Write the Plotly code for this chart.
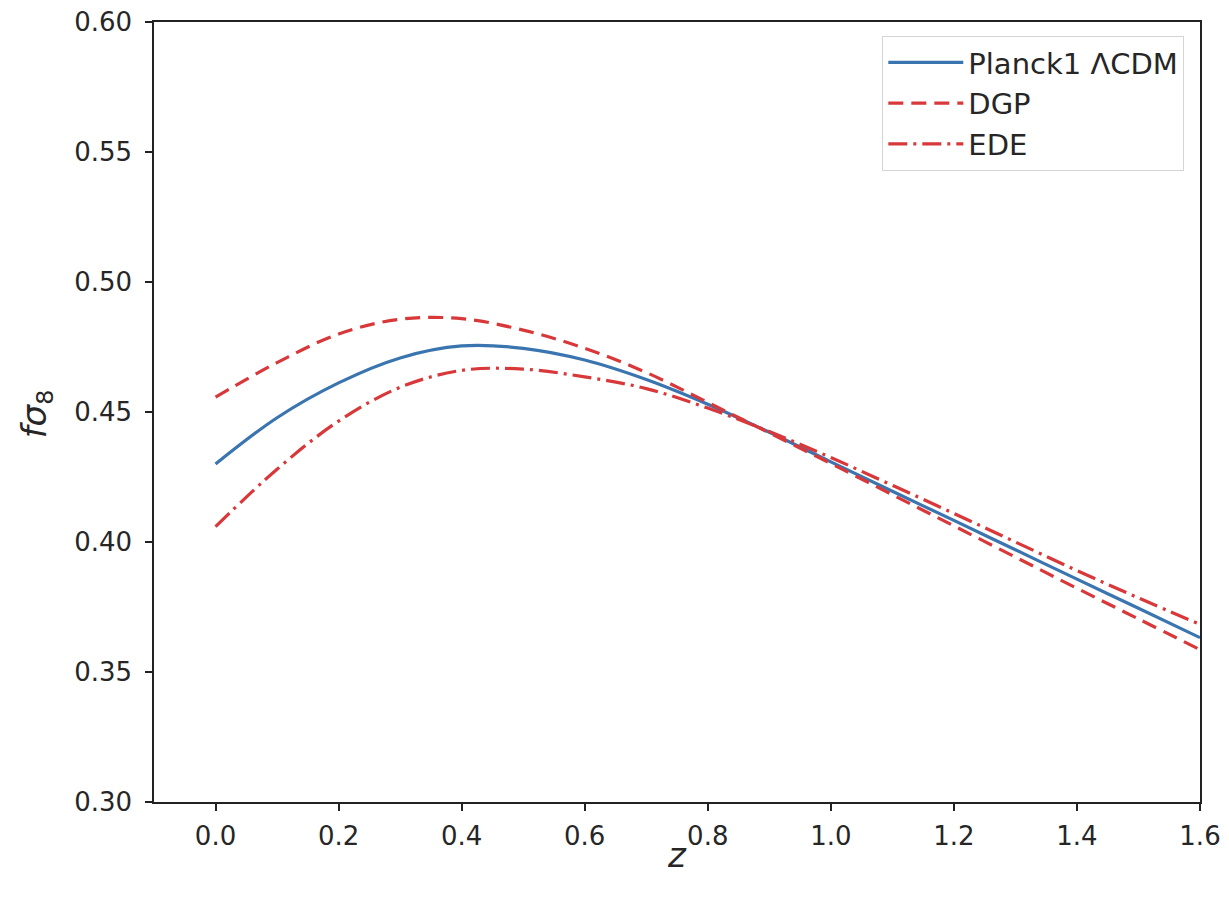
import plotly.graph_objects as go

z = [0.0, 0.1, 0.2, 0.3, 0.4, 0.5, 0.6, 0.7, 0.8, 0.9, 1.0, 1.1, 1.2, 1.3, 1.4, 1.5, 1.6]
lcdm = [0.4300, 0.4478, 0.4612, 0.4708, 0.4754, 0.4745, 0.4700, 0.4625, 0.4530, 0.4422, 0.4308,
        0.4195, 0.4083, 0.3970, 0.3857, 0.3745, 0.3632]
dgp = [0.4557, 0.4690, 0.4800, 0.4857, 0.4859, 0.4815, 0.4745, 0.4652, 0.4537, 0.4420, 0.4302,
       0.4182, 0.4062, 0.3942, 0.3822, 0.3704, 0.3586]
ede = [0.4059, 0.4280, 0.4465, 0.4595, 0.4660, 0.4665, 0.4635, 0.4590, 0.4515, 0.4425, 0.4325,
       0.4218, 0.4110, 0.4000, 0.3890, 0.3785, 0.3683]

x_ticks = [0.0, 0.2, 0.4, 0.6, 0.8, 1.0, 1.2, 1.4, 1.6]
y_ticks = [0.30, 0.35, 0.40, 0.45, 0.50, 0.55, 0.60]

blue = "#3a75b0"
red = "#d9383a"
font = "DejaVu Sans"
txt = "#262626"

fig = go.Figure()
fig.add_trace(go.Scatter(x=z, y=lcdm, mode="lines", name="Planck1 ΛCDM",
                         line=dict(color=blue, width=3.2, shape="spline", smoothing=1.0)))
fig.add_trace(go.Scatter(x=z, y=dgp, mode="lines", name="DGP",
                         line=dict(color=red, width=3.2, shape="spline", smoothing=1.0, dash="15px,8px")))
fig.add_trace(go.Scatter(x=z, y=ede, mode="lines", name="EDE",
                         line=dict(color=red, width=3.2, shape="spline", smoothing=1.0,
                                   dash="19px,6px,3px,6px")))

axis_common = dict(showline=True, linecolor="#222", linewidth=1.5, mirror=True,
                   ticks="outside", ticklen=7, tickwidth=1.5, tickcolor="#222",
                   showgrid=False, zeroline=False,
                   tickfont=dict(family=font, size=26, color=txt))

fig.update_layout(
    width=1229, height=899,
    margin=dict(l=154, r=29, t=22, b=97),
    plot_bgcolor="white", paper_bgcolor="white",
    xaxis=dict(range=[-0.1, 1.6], tickvals=x_ticks, ticktext=[f"{v:.1f}" for v in x_ticks],
               ticklabelstandoff=3, automargin=False, **axis_common),
    yaxis=dict(range=[0.30, 0.60], tickvals=y_ticks, ticktext=[f"{v:.2f}" for v in y_ticks],
               ticklabelstandoff=8, automargin=False, **axis_common),
    legend=dict(x=0.985, y=0.982, xanchor="right", yanchor="top",
                bgcolor="white", bordercolor="#d5d5d5", borderwidth=1,
                font=dict(family=font, size=29, color=txt),
                tracegroupgap=2, itemwidth=75),
    showlegend=True,
    annotations=[
        dict(text="<i>z</i>", xref="paper", yref="paper", x=0.5, y=-0.068,
             xanchor="center", yanchor="middle", showarrow=False,
             font=dict(family=font, size=34, color=txt)),
        dict(text="<i>fσ</i><sub>8</sub>", xref="paper", yref="paper", x=-0.1128, y=0.497,
             xanchor="center", yanchor="middle", showarrow=False, textangle=-90,
             font=dict(family=font, size=34, color=txt)),
    ],
)

fig.write_html("out.html")
